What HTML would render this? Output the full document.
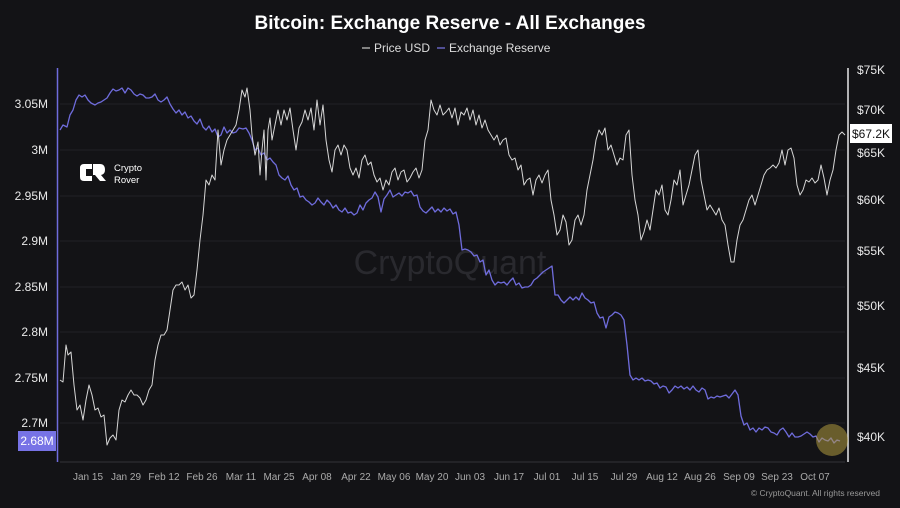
<!DOCTYPE html>
<html><head><meta charset="utf-8"><style>
html,body{margin:0;padding:0;background:#131316;}
svg{display:block;font-family:"Liberation Sans",sans-serif;}
</style></head><body>
<svg width="900" height="508" viewBox="0 0 900 508" xmlns="http://www.w3.org/2000/svg">
<rect width="900" height="508" fill="#131316"/>
<text x="450" y="29" fill="#fff" font-size="19" font-weight="bold" text-anchor="middle">Bitcoin: Exchange Reserve - All Exchanges</text>
<line x1="362" y1="48" x2="370" y2="48" stroke="#ccc" stroke-width="1.2"/>
<text x="374" y="52" fill="#ddd" font-size="12">Price USD</text>
<line x1="437" y1="48" x2="445" y2="48" stroke="#7b78e8" stroke-width="1.2"/>
<text x="449" y="52" fill="#ddd" font-size="12">Exchange Reserve</text>
<g stroke="#222226" stroke-width="1">
<line x1="60" y1="104" x2="845" y2="104"/><line x1="60" y1="150" x2="845" y2="150"/><line x1="60" y1="196" x2="845" y2="196"/><line x1="60" y1="241" x2="845" y2="241"/><line x1="60" y1="287" x2="845" y2="287"/><line x1="60" y1="332" x2="845" y2="332"/><line x1="60" y1="378" x2="845" y2="378"/><line x1="60" y1="423" x2="845" y2="423"/>
</g>
<line x1="60" y1="462" x2="845" y2="462" stroke="#333338" stroke-width="1"/>
<line x1="57.5" y1="68" x2="57.5" y2="462" stroke="#6f6cdc" stroke-width="1.5"/>
<line x1="848" y1="68" x2="848" y2="462" stroke="#e8e8e8" stroke-width="1.5"/>
<text x="450" y="274" fill="#29292e" font-size="34" text-anchor="middle">CryptoQuant</text>
<g fill="#e8e8e8" font-size="12" text-anchor="end">
<text x="48" y="108">3.05M</text><text x="48" y="154">3M</text><text x="48" y="200">2.95M</text><text x="48" y="245">2.9M</text><text x="48" y="291">2.85M</text><text x="48" y="336">2.8M</text><text x="48" y="382">2.75M</text><text x="48" y="427">2.7M</text>
</g>
<rect x="18" y="431" width="38" height="20" fill="#7773e6"/>
<text x="37" y="445" fill="#fff" font-size="12" text-anchor="middle">2.68M</text>
<g fill="#e8e8e8" font-size="12">
<text x="857" y="74">$75K</text><text x="857" y="114">$70K</text><text x="857" y="157">$65K</text><text x="857" y="204">$60K</text><text x="857" y="255">$55K</text><text x="857" y="310">$50K</text><text x="857" y="372">$45K</text><text x="857" y="441">$40K</text>
</g>
<rect x="850" y="124" width="42" height="19" fill="#fff"/>
<text x="871" y="138" fill="#111" font-size="12" text-anchor="middle">$67.2K</text>
<g fill="#aaa" font-size="10" text-anchor="middle">
<text x="88" y="480">Jan 15</text><text x="126" y="480">Jan 29</text><text x="164" y="480">Feb 12</text><text x="202" y="480">Feb 26</text><text x="241" y="480">Mar 11</text><text x="279" y="480">Mar 25</text><text x="317" y="480">Apr 08</text><text x="356" y="480">Apr 22</text><text x="394" y="480">May 06</text><text x="432" y="480">May 20</text><text x="470" y="480">Jun 03</text><text x="509" y="480">Jun 17</text><text x="547" y="480">Jul 01</text><text x="585" y="480">Jul 15</text><text x="624" y="480">Jul 29</text><text x="662" y="480">Aug 12</text><text x="700" y="480">Aug 26</text><text x="739" y="480">Sep 09</text><text x="777" y="480">Sep 23</text><text x="815" y="480">Oct 07</text>
</g>
<text x="880" y="496" fill="#999" font-size="8.5" text-anchor="end">© CryptoQuant. All rights reserved</text>
<g transform="translate(80,164)">
<path d="M12 0 H4 Q0 0 0 4 V13 Q0 17 4 17 H12 V12 H6 V5 H12Z" fill="#fff"/>
<path d="M13 0 H20 Q25 0 25 6 Q25 10 21 11 L26 17 H20 L15 11 H13Z" fill="#fff"/>
<text x="34" y="7" fill="#fff" font-size="9.5">Crypto</text>
<text x="34" y="19" fill="#fff" font-size="9.5">Rover</text>
</g>
<polyline fill="none" stroke="#6f6cdc" stroke-width="1.3" stroke-linejoin="round" points="60,130 63,125 67,127 70,115 73,110 76,100 79,95 82,97 85,95 88,100 91,103 95,105 98,103 101,102 104,100 107,98 110,93 113,89 116,91 119,90 122,88 125,93 128,88 131,90 134,94 137,96 140,94 143,95 146,98 149,98 152,97 155,94 158,100 161,102 164,100 167,97 170,104 173,109 176,113 179,110 182,115 185,112 188,118 191,116 194,121 197,124 200,119 203,127 206,130 209,126 212,132 215,129 218,137 221,135 224,127 227,133 230,130 233,133 236,132 239,128 243,129 246,128 249,133 252,140 255,150 258,148 261,155 264,153 267,160 270,158 273,162 276,165 279,175 282,178 285,180 288,176 291,185 294,190 297,188 300,197 303,196 306,200 309,202 312,205 315,203 318,198 321,202 324,205 327,200 330,203 333,208 336,205 339,210 342,212 345,208 348,213 351,212 354,215 357,213 360,205 363,210 366,203 369,200 372,198 375,192 378,197 381,212 384,199 387,195 390,190 393,197 396,195 399,193 402,196 405,192 408,193 411,191 414,196 417,195 420,207 423,211 426,213 429,210 432,207 435,212 438,209 441,212 444,208 447,211 450,209 453,214 456,212 459,225 462,250 465,249 468,250 471,252 474,256 477,255 480,262 483,260 486,275 489,270 492,280 495,285 498,282 501,283 504,282 507,285 510,281 513,278 516,285 519,283 522,288 525,287 528,287 531,285 534,280 537,278 540,275 543,272 546,270 549,268 552,266 555,295 558,295 561,300 564,303 567,300 570,297 573,300 576,297 579,300 582,293 585,298 588,300 591,303 594,302 597,313 600,318 603,317 606,328 609,317 612,315 615,312 618,313 621,315 624,320 627,345 630,375 633,380 636,378 639,380 642,378 645,381 648,380 651,381 654,384 657,383 660,388 663,386 666,387 669,393 672,390 675,386 678,388 681,386 684,389 687,387 690,390 693,386 696,390 699,392 702,388 705,390 708,399 711,397 714,398 717,396 720,397 723,396 726,395 729,398 732,394 735,390 738,395 741,416 744,425 747,423 750,430 753,428 756,432 759,428 762,430 765,427 768,428 771,432 774,433 777,435 780,430 783,428 786,432 789,437 792,433 795,437 798,437 801,436 804,434 807,432 810,434 813,437 816,436 819,442 822,438 825,440 828,441 831,438 834,443 837,440 840,441"/>
<polyline fill="none" stroke="#d6d6d6" stroke-width="1" stroke-linejoin="round" points="60,380 63,382 66,345 68,355 71,352 74,385 77,410 80,405 83,420 86,400 89,385 92,395 95,410 98,408 101,417 104,415 107,445 110,438 113,435 116,440 119,410 122,400 125,402 128,395 131,390 134,395 137,395 140,398 143,405 146,400 149,390 152,385 155,360 158,345 161,335 164,335 167,330 170,310 173,290 176,285 179,285 182,282 185,290 188,285 191,298 194,295 197,270 200,240 203,215 206,180 209,185 212,175 215,180 218,130 221,165 224,150 227,140 230,135 233,130 236,125 239,110 242,90 245,97 247,88 250,110 252,135 255,155 258,142 260,175 262,150 264,130 266,180 268,130 270,118 272,140 275,125 278,110 281,125 284,110 287,120 290,108 293,130 296,150 299,128 302,122 305,110 308,120 311,108 314,130 317,100 320,125 323,105 326,140 329,160 332,172 335,150 338,145 341,155 344,145 347,150 350,168 353,175 356,168 359,178 362,160 365,155 368,165 371,162 374,175 377,182 380,178 383,190 386,180 389,185 392,172 395,168 398,180 401,172 404,170 407,182 410,178 413,172 416,168 419,178 422,170 425,140 428,130 431,100 434,110 437,115 440,105 443,115 446,112 449,108 452,118 455,108 458,125 461,112 464,115 467,108 470,120 473,110 476,125 479,115 482,128 485,120 488,130 491,135 494,140 497,135 500,145 503,140 506,138 509,155 512,160 515,158 518,170 521,165 524,185 527,180 530,178 533,195 536,180 539,175 542,183 545,175 548,170 551,200 554,215 557,235 560,230 563,215 566,222 569,245 572,240 575,220 578,215 581,225 584,215 587,190 590,175 593,160 596,140 599,130 602,135 605,128 608,150 611,145 614,155 617,165 620,158 623,160 626,135 629,130 632,175 635,200 638,215 641,240 644,232 647,220 650,230 653,210 656,190 659,195 662,185 665,210 668,215 671,200 674,180 677,185 680,170 683,205 686,195 689,185 692,170 695,155 698,150 701,180 704,195 707,210 710,205 713,210 716,215 719,208 722,220 725,225 728,245 731,262 734,262 737,240 740,225 743,220 746,210 749,200 752,195 755,205 758,195 761,185 764,175 767,170 770,168 773,165 776,168 779,163 782,150 785,165 788,150 791,148 794,158 797,185 800,195 803,190 806,180 809,182 812,178 815,183 818,180 821,165 824,178 827,195 830,180 833,170 836,150 839,135 842,132 845,135"/>
<circle cx="832" cy="440" r="16" fill="#b09a40" fill-opacity="0.55"/>
</svg>
</body></html>
